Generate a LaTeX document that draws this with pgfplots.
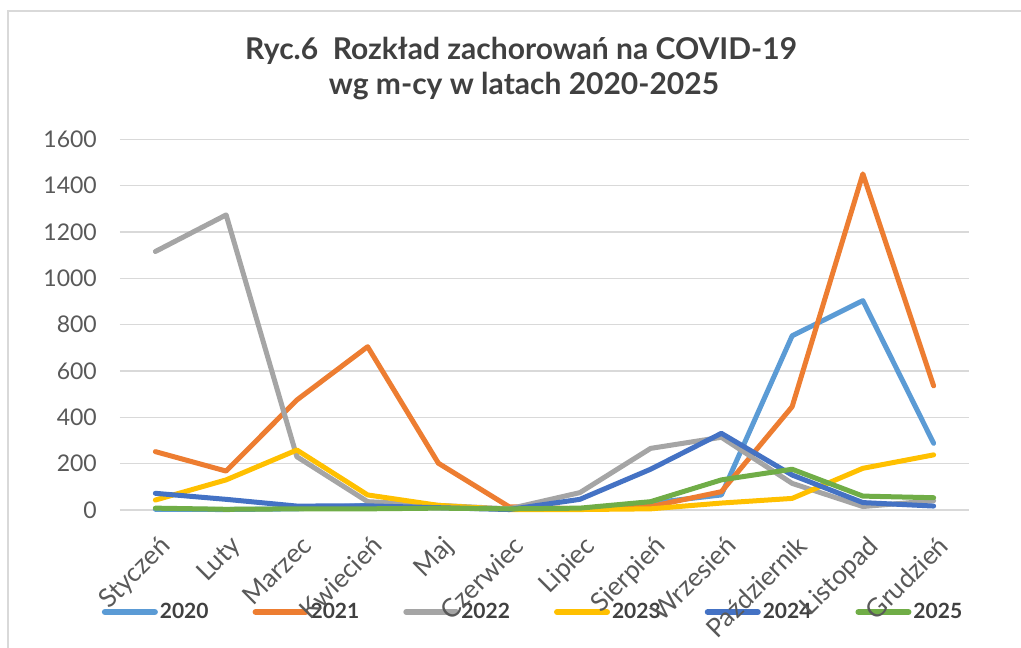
\documentclass[border=0pt]{standalone}
\usepackage{fontspec}
\setmainfont{Lato}
\usepackage{pgfplots}
\pgfplotsset{compat=1.18}
\definecolor{c2020}{HTML}{5B9BD5}
\definecolor{c2021}{HTML}{ED7D31}
\definecolor{c2022}{HTML}{A5A5A5}
\definecolor{c2023}{HTML}{FFC000}
\definecolor{c2024}{HTML}{4472C4}
\definecolor{c2025}{HTML}{70AD47}
\definecolor{gridc}{HTML}{D9D9D9}
\definecolor{framec}{HTML}{D9D9D9}
\definecolor{tickc}{HTML}{595959}
\definecolor{titlec}{HTML}{404040}
\begin{document}
\begin{tikzpicture}[x=1pt,y=1pt]
\useasboundingbox (0,0) rectangle (1021,648);
\fill[white] (0,0) rectangle (1021,648);
\draw[color=framec, line width=1.5pt] (8,-20) -- (8,637) -- (1040,637);
\node[font=\fontsize{30}{35}\selectfont\bfseries, text=titlec, anchor=base, inner sep=0pt] at (521,588)
  {Ryc.6~~Rozkład zachorowań na COVID-19};
\node[font=\fontsize{30}{35}\selectfont\bfseries, text=titlec, anchor=base, inner sep=0pt] at (524,553)
  {wg m-cy w latach 2020-2025};
% legend drawn first so that the month labels lie over it
\begin{axis}[
  at={(120pt,138pt)}, anchor=south west,
  scale only axis, width=849pt, height=370.6pt,
  xmin=-0.5, xmax=11.5, ymin=0, ymax=1600,
  hide axis,
  legend columns=6,
  legend style={at={(0.4865,-0.2752)}, anchor=center, draw=none, fill=none,
    font=\fontsize{21}{25}\selectfont\bfseries, text=titlec,
    /tikz/every even column/.append style={column sep=42pt}},
  legend image code/.code={\draw[#1, line width=6pt, line cap=round] (0pt,0pt) -- (50pt,0pt);},
]
\addlegendimage{c2020}
\addlegendimage{c2021}
\addlegendimage{c2022}
\addlegendimage{c2023}
\addlegendimage{c2024}
\addlegendimage{c2025}
\legend{2020,2021,2022,2023,2024,2025}
\end{axis}
\begin{axis}[
  at={(120pt,138pt)}, anchor=south west,
  scale only axis, width=849pt, height=370.6pt,
  xmin=-0.5, xmax=11.5, ymin=0, ymax=1600,
  ytick={0,200,...,1600},
  xtick={0,...,11},
  xticklabels={Styczeń,Luty,Marzec,Kwiecień,Maj,Czerwiec,Lipiec,Sierpień,Wrzesień,Październik,Listopad,Grudzień},
  axis line style={draw=none},
  major tick length=0pt,
  ymajorgrids,
  grid style={color=gridc, line width=1.5pt},
  tick label style={font=\fontsize{23}{27}\selectfont, text=tickc},
  /pgf/number format/assume math mode=true,
  /pgf/number format/set thousands separator={},
  yticklabel style={inner sep=0pt, xshift=-23pt},
  xticklabel style={font=\fontsize{26}{30}\selectfont, inner sep=0pt, xshift=3pt, yshift=-24pt, rotate=45, anchor=north east},
  clip=false,
  every axis plot/.append style={line width=5pt, line join=round, line cap=round, mark=none},
]
\addplot[c2020] coordinates {(0,3)(1,2)(2,5)(3,20)(4,15)(5,3)(6,5)(7,30)(8,65)(9,752)(10,904)(11,288)};
\addplot[c2021] coordinates {(0,252)(1,168)(2,475)(3,705)(4,202)(5,14)(6,5)(7,15)(8,79)(9,446)(10,1451)(11,536)};
\addplot[c2022] coordinates {(0,1116)(1,1274)(2,230)(3,36)(4,20)(5,5)(6,75)(7,266)(8,314)(9,115)(10,15)(11,40)};
\addplot[c2023] coordinates {(0,43)(1,130)(2,259)(3,65)(4,20)(5,2)(6,2)(7,5)(8,30)(9,50)(10,180)(11,238)};
\addplot[c2024] coordinates {(0,72)(1,46)(2,17)(3,18)(4,10)(5,2)(6,46)(7,176)(8,331)(9,151)(10,32)(11,17)};
\addplot[c2025] coordinates {(0,8)(1,3)(2,5)(3,5)(4,8)(5,5)(6,8)(7,36)(8,130)(9,176)(10,60)(11,53)};
\end{axis}
\end{tikzpicture}
\end{document}
